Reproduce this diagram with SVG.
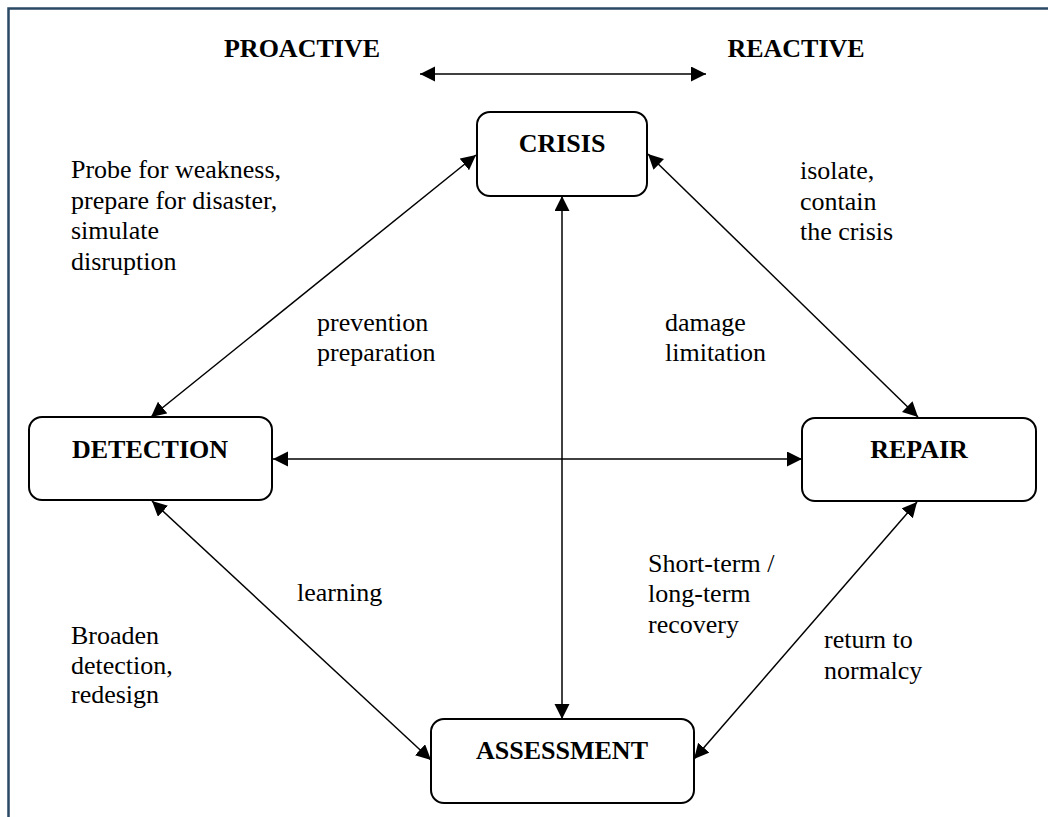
<svg xmlns="http://www.w3.org/2000/svg" width="1048" height="817" viewBox="0 0 1048 817">
  <style>
    .frame { stroke: #2b4864; stroke-width: 2.5; fill: none; }
    .box { fill: #ffffff; stroke: #000000; stroke-width: 2; }
    .title { font-family: "Liberation Serif", "Times New Roman", serif; font-weight: bold; font-size: 26px; fill: #000000; }
    .label { font-family: "Liberation Serif", "Times New Roman", serif; font-size: 26px; fill: #000000; }
    .link { stroke: #000000; stroke-width: 1.5; fill: none; marker-start: url(#head); marker-end: url(#head); }
  </style>
  <defs>
    <marker id="head" markerUnits="userSpaceOnUse" markerWidth="16" markerHeight="16" refX="15" refY="7.5" orient="auto-start-reverse">
      <path d="M0,0 L15,7.5 L0,15 z" fill="#000000"/>
    </marker>
  </defs>

  <rect width="1048" height="817" fill="#ffffff"/>

  <!-- page frame: top and left rules -->
  <path class="frame" d="M8.5,817 L8.5,8.5 L1048,8.5"/>

  <!-- proactive / reactive scale -->
  <g id="scale">
    <text class="title" x="302" y="57" text-anchor="middle">PROACTIVE</text>
    <text class="title" x="796" y="57" text-anchor="middle">REACTIVE</text>
  </g>

  <!-- connectors -->
  <g id="connectors">
    <line class="link" x1="420" y1="74" x2="706" y2="74"/>
    <line class="link" x1="476" y1="155" x2="151" y2="417"/>
    <line class="link" x1="648" y1="154" x2="918" y2="417"/>
    <line class="link" x1="562" y1="196" x2="562" y2="719"/>
    <line class="link" x1="273" y1="459" x2="802" y2="459"/>
    <line class="link" x1="152" y1="501" x2="431" y2="760"/>
    <line class="link" x1="917" y1="502" x2="694" y2="759"/>
  </g>

  <!-- nodes -->
  <g id="crisis">
    <rect class="box" x="477" y="112" width="170" height="84" rx="13"/>
    <text class="title" x="562" y="152" text-anchor="middle">CRISIS</text>
  </g>
  <g id="detection">
    <rect class="box" x="29" y="417" width="243" height="83" rx="13"/>
    <text class="title" x="150" y="458" text-anchor="middle">DETECTION</text>
  </g>
  <g id="repair">
    <rect class="box" x="802" y="418" width="234" height="83" rx="13"/>
    <text class="title" x="919" y="458" text-anchor="middle">REPAIR</text>
  </g>
  <g id="assessment">
    <rect class="box" x="431" y="719" width="263" height="84" rx="13"/>
    <text class="title" x="562" y="759" text-anchor="middle">ASSESSMENT</text>
  </g>

  <!-- edge annotations -->
  <g id="annotations">
    <text class="label" x="71" y="178">Probe for weakness,</text>
    <text class="label" x="71" y="209">prepare for disaster,</text>
    <text class="label" x="71" y="239">simulate</text>
    <text class="label" x="71" y="270">disruption</text>

    <text class="label" x="317" y="331">prevention</text>
    <text class="label" x="317" y="361">preparation</text>

    <text class="label" x="800" y="179">isolate,</text>
    <text class="label" x="800" y="210">contain</text>
    <text class="label" x="800" y="240">the crisis</text>

    <text class="label" x="665" y="331">damage</text>
    <text class="label" x="665" y="361">limitation</text>

    <text class="label" x="297" y="601">learning</text>

    <text class="label" x="71" y="644">Broaden</text>
    <text class="label" x="71" y="674">detection,</text>
    <text class="label" x="71" y="703">redesign</text>

    <text class="label" x="648" y="572">Short-term /</text>
    <text class="label" x="648" y="602">long-term</text>
    <text class="label" x="648" y="633">recovery</text>

    <text class="label" x="824" y="648">return to</text>
    <text class="label" x="824" y="679">normalcy</text>
  </g>
</svg>
